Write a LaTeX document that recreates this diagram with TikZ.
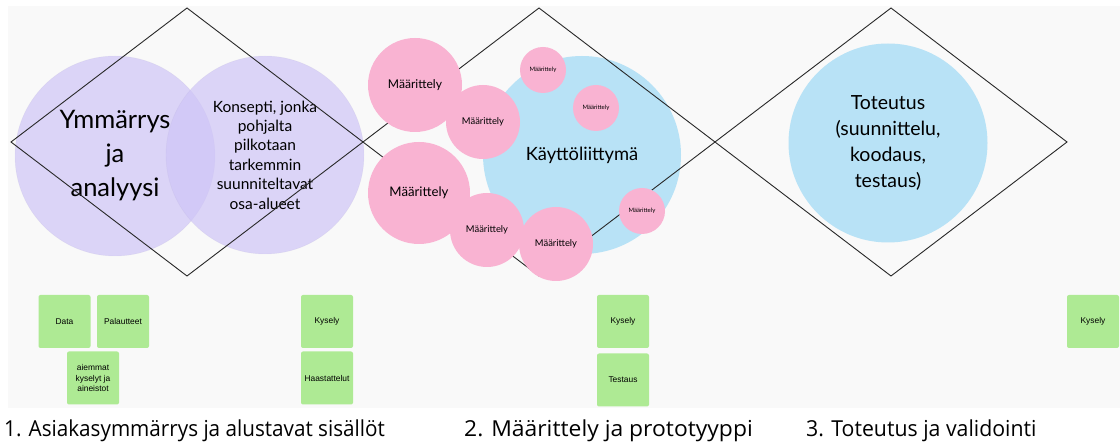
\documentclass[tikz,border=0pt]{standalone}
\usepackage{fontspec}
\setmainfont{Lato}
\newfontfamily\capfont{Open Sans}
\newfontfamily\notefont{Liberation Sans}
\definecolor{canvas}{RGB}{249,249,249}
\definecolor{lilac}{RGB}{207,197,247}
\definecolor{skyfill}{RGB}{184,226,246}
\definecolor{rosefill}{RGB}{249,179,210}
\definecolor{notegreen}{RGB}{174,234,148}
\definecolor{inkline}{RGB}{40,40,40}
\begin{document}
\begin{tikzpicture}[x=1pt,y=-1pt,
  bubble/.style={circle,inner sep=0pt,align=center,text=black},
  lilacbubble/.style={bubble,fill=lilac,fill opacity=0.7,text opacity=1,draw=lilac!80!black,draw opacity=0.15},
  skybubble/.style={bubble,fill=skyfill},
  rosebubble/.style={bubble,fill=rosefill},
  note/.style={rectangle,rounded corners=2pt,fill=notegreen,minimum width=52pt,minimum height=53pt,inner sep=1pt,align=center,font=\notefont\fontsize{8.4}{10.8}\selectfont},
  phase/.style={anchor=base west,inner sep=0pt,font=\capfont\fontsize{22}{26}\selectfont},
  frame/.style={draw=inkline,line width=0.9pt,line join=miter}]
% canvas
\fill[white] (0,0) rectangle (1120,443);
\fill[canvas] (8,6) rectangle (1120,408);

% understanding circles
\node[lilacbubble,minimum size=200pt,font=\fontsize{25.5}{34}\selectfont] (ymm) at (115,156) {Ymmärrys\\ja\\analyysi};
\node[lilacbubble,minimum size=198pt,font=\fontsize{15.5}{19.4}\selectfont] (kon) at (265,155) {Konsepti, jonka\\pohjalta\\pilkotaan\\tarkemmin\\suunniteltavat\\osa-alueet};

% interface and implementation circles
\node[skybubble,minimum size=198pt,font=\fontsize{18.3}{22}\selectfont] (ui) at (582,155) {Käyttöliittymä};
\node[skybubble,minimum size=199pt,font=\fontsize{19.5}{26}\selectfont] (tot) at (888,143) {Toteutus\\(suunnittelu,\\koodaus,\\testaus)};

% double diamond frames
\coordinate (d1t) at (187,8);   \coordinate (d1b) at (187,276);
\coordinate (d2t) at (539,8);   \coordinate (d2b) at (539,276);
\coordinate (d3t) at (891,8);   \coordinate (d3b) at (891,276);
\coordinate (v0) at (11,142);   \coordinate (v1) at (363,142);
\coordinate (v2) at (715,142);  \coordinate (v3) at (1067,142);
\draw[frame] (v0) -- (d1t) -- (v1) -- (d1b) -- cycle;
\draw[frame] (v1) -- (d2t) -- (v2) -- (d2b) -- cycle;
\draw[frame] (v2) -- (d3t) -- (v3) -- (d3b) -- cycle;

% definition circles
\node[rosebubble,minimum size=94pt,font=\fontsize{12.1}{14}\selectfont] (m1) at (415,85) {Määrittely};
\node[rosebubble,minimum size=74pt,font=\fontsize{9.4}{11}\selectfont] (m2) at (483,122) {Määrittely};
\node[rosebubble,minimum size=102pt,font=\fontsize{13.2}{15}\selectfont] (m3) at (419,193) {Määrittely};
\node[rosebubble,minimum size=74pt,font=\fontsize{9.4}{11}\selectfont] (m4) at (487,230) {Määrittely};
\node[rosebubble,minimum size=74pt,font=\fontsize{9.4}{11}\selectfont] (m5) at (556,244) {Määrittely};
\node[rosebubble,minimum size=46pt,font=\fontsize{6}{7}\selectfont] (s1) at (543,70) {Määrittely};
\node[rosebubble,minimum size=46pt,font=\fontsize{6}{7}\selectfont] (s2) at (596,108) {Määrittely};
\node[rosebubble,minimum size=46pt,font=\fontsize{6}{7}\selectfont] (s3) at (642,211) {Määrittely};

% sticky notes
\node[note] (data) at (64.5,321.5) {Data};
\node[note] (pal) at (123,321.5) {Palautteet};
\node[note] (aie) at (93,378) {aiemmat\\kyselyt ja\\aineistot};
\node[note] (kys1) at (327,321.5) {Kysely};
\node[note] (haa) at (327,378) {Haastattelut};
\node[note] (kys2) at (623,321.5) {Kysely};
\node[note] (tes) at (623,380) {Testaus};
\node[note] (kys3) at (1093,321.5) {Kysely};

% phase captions
\node[phase] (p1) at (4,437) {\scalebox{0.94}[1]{1. Asiakasymmärrys ja alustavat sisällöt}};
\node[phase] (p2) at (464,437) {\scalebox{1.04}[1]{2. Määrittely ja prototyyppi}};
\node[phase] (p3) at (806,437) {\scalebox{0.967}[1]{3. Toteutus ja validointi}};
\end{tikzpicture}
\end{document}
